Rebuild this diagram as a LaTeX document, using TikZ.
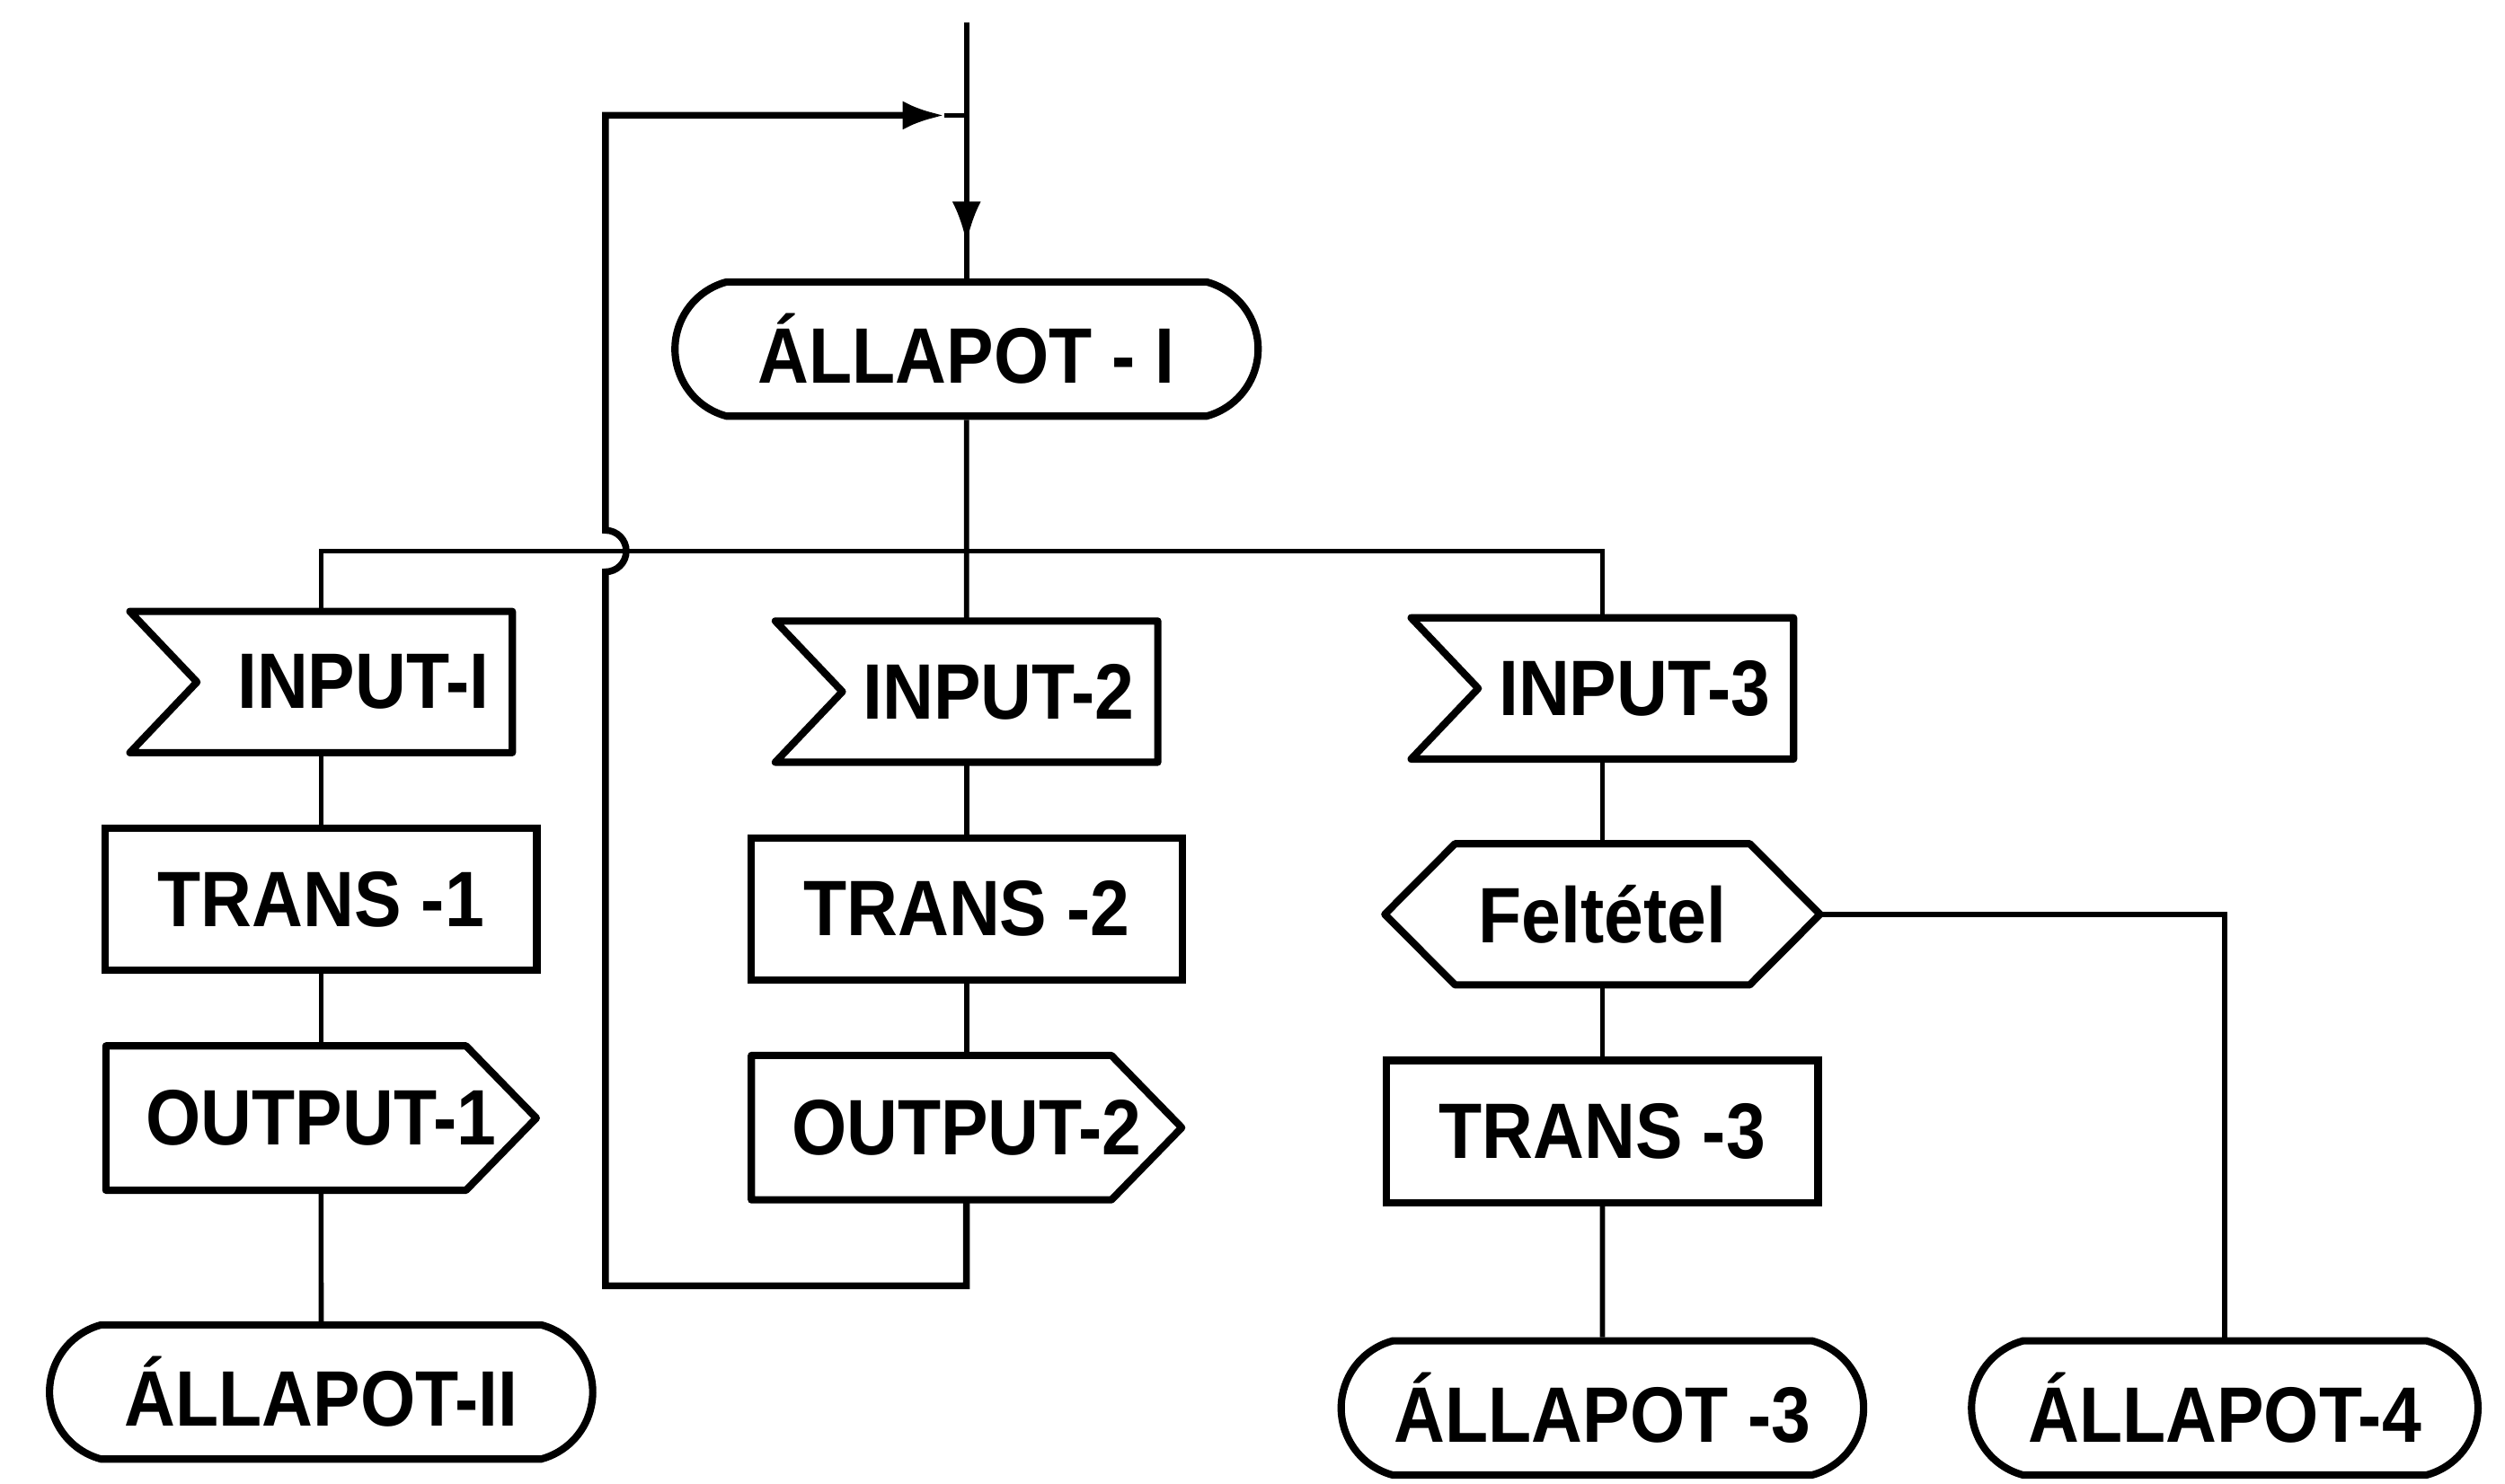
\documentclass[tikz,border=0pt]{standalone}
\usepackage{fontspec}
\setmainfont{Liberation Sans}[FakeStretch=0.9]
\usetikzlibrary{arrows.meta, positioning, shapes.misc}

\begin{document}
\begin{tikzpicture}[
  node distance=4.5mm and 7mm,
  every node/.style={font=\fontsize{14}{16}\selectfont\bfseries},
  stbox/.style={draw, rounded rectangle, rounded rectangle arc length=150,
                line width=1.3pt, minimum height=8.4mm, inner sep=0pt},
  transbox/.style={draw, line width=1.3pt, minimum width=27mm, minimum height=8.9mm},
  inbox/.style={minimum height=8.7mm, text width=21mm, inner xsep=1.4mm, align=right},
  outbox/.style={minimum width=26.8mm, minimum height=8.9mm},
  condbox/.style={minimum width=27.1mm, minimum height=8.7mm},
  outline/.style={line width=1.3pt, line join=round},
  conn/.style={line width=0.9pt},
  loopline/.style={line width=1.2pt, -{Latex[length=2.6mm, width=1.8mm]}},
  arr/.style={conn, -{Latex[length=2.6mm, width=1.8mm]}}]
\useasboundingbox (0,0) rectangle (15.68,-9.29);

\node[inbox] (in1) at (2.01,-4.27) {INPUT-I};
\node[inbox] (in2) at (6.05,-4.33) {INPUT-2};
\node[inbox] (in3) at (10.03,-4.31) {INPUT-3};
\node[stbox, minimum width=36.5mm, above=12.6mm of in2] (s1) {ÁLLAPOT - I};

\node[transbox, below=of in1] (tr1) {TRANS -1};
\node[outbox, below=of tr1] (out1) {OUTPUT-1};
\node[stbox, minimum width=34mm, below=8.2mm of out1] (s2) {ÁLLAPOT-II};

\node[transbox, below=of in2] (tr2) {TRANS -2};
\node[outbox, below=of tr2] (out2) {OUTPUT-2};

\node[condbox, below=5.3mm of in3] (cond) {Feltétel};
\node[transbox, below=of cond] (tr3) {TRANS -3};
\node[stbox, minimum width=32.7mm, below=8.2mm of tr3] (s3) {ÁLLAPOT -3};
\node[stbox, minimum width=31.7mm, right=6.3mm of s3] (s4) {ÁLLAPOT-4};

% symbol outlines
\foreach \n in {in1,in2,in3}
  \draw[outline] (\n.north west) -- (\n.north east) -- (\n.south east)
    -- (\n.south west) -- ([xshift=4.2mm]\n.west) -- cycle;
\foreach \n in {out1,out2}
  \draw[outline] (\n.north west) -- ([xshift=-4.4mm]\n.north east) -- (\n.east)
    -- ([xshift=-4.4mm]\n.south east) -- (\n.south west) -- cycle;
\draw[outline] ([xshift=4.4mm]cond.north west) -- ([xshift=-4.4mm]cond.north east)
  -- (cond.east) -- ([xshift=-4.4mm]cond.south east)
  -- ([xshift=4.4mm]cond.south west) -- (cond.west) -- cycle;

% entry and merge
\coordinate[above=16mm of s1.north] (entry);
\coordinate[above=10.2mm of s1.north] (merge);
\coordinate[above=2.2mm of s1.north] (atip);
\coordinate[left=1.4mm of merge] (ltip);
\coordinate (bus) at (6.05,-3.45);
\coordinate (lcorner) at (3.79,-8.05);

\draw[conn] (entry) -- (s1.north);
\draw[arr] (merge) -- (atip);
\draw[conn] (s1) -- (in2);
\draw[conn] (in1) |- (bus) -| (in3);
\foreach \a/\b in {in1/tr1, tr1/out1, out1/s2, in2/tr2, tr2/out2,
                   in3/cond, cond/tr3, tr3/s3}
  \draw[conn] (\a) -- (\b);
\draw[conn] (cond.east) -| (s4.north);

% loop back with jump over the bus
\draw[loopline] (out2) |- (lcorner) -- ([yshift=-1.3mm]lcorner |- bus)
  arc[start angle=-90, end angle=90, radius=1.3mm] -- (lcorner |- merge) -- (ltip);
\draw[conn] (ltip) -- (merge);
\end{tikzpicture}
\end{document}
